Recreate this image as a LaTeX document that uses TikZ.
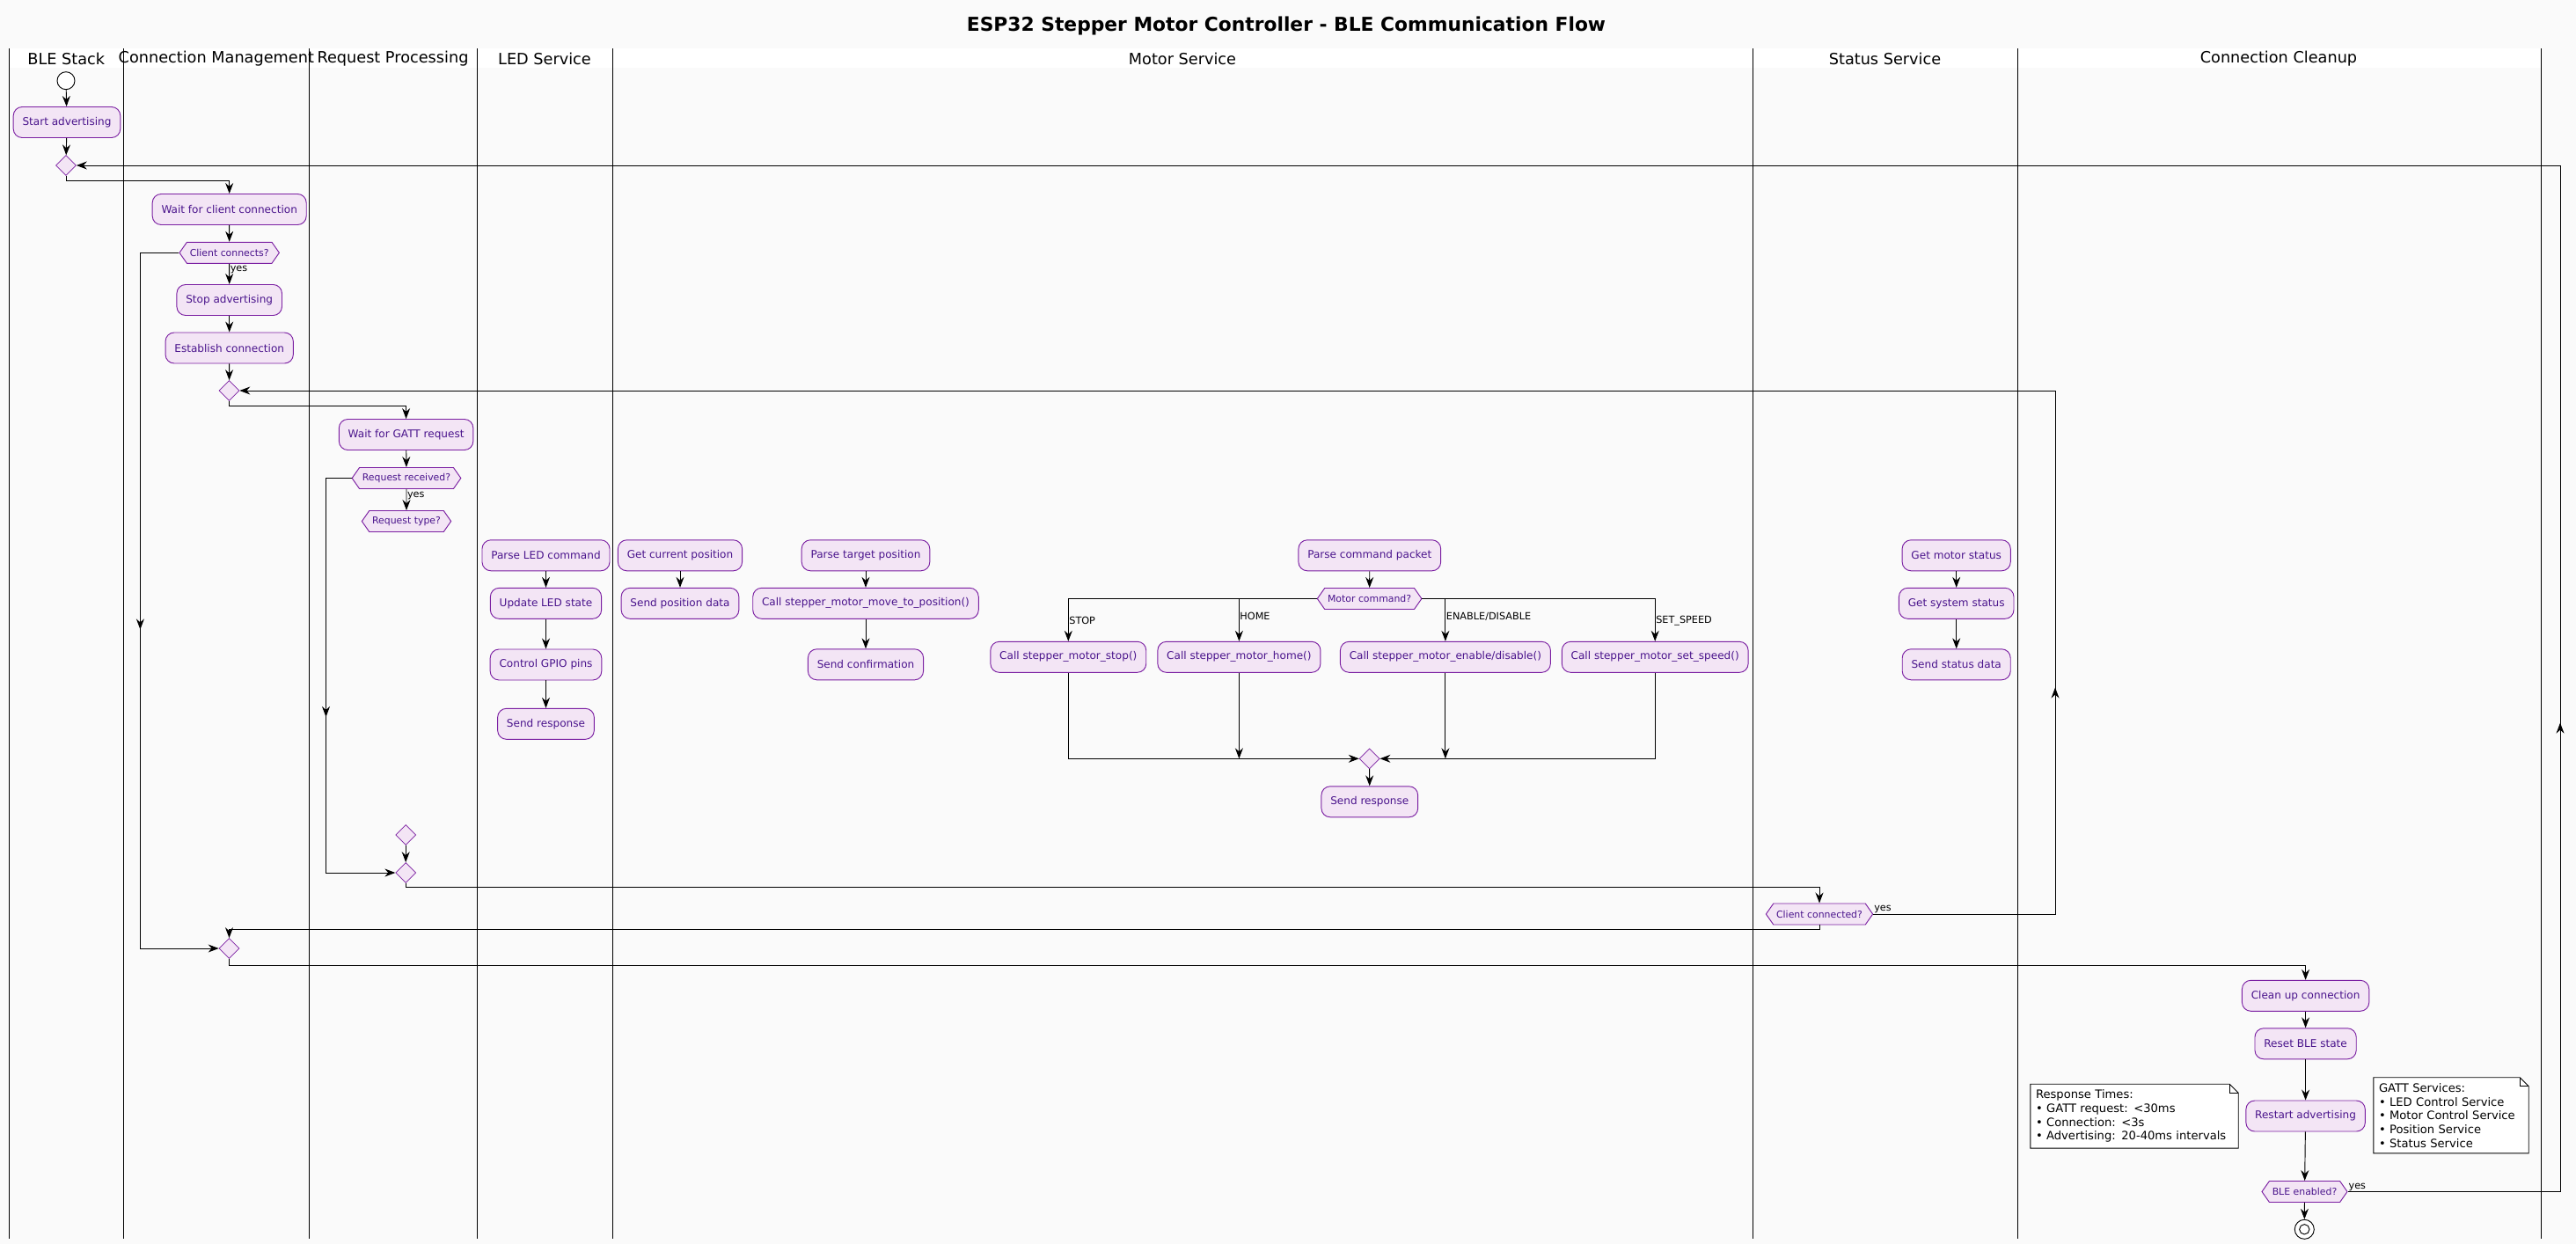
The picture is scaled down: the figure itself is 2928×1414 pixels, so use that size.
\documentclass[tikz,border=0pt]{standalone}
\usepackage{fontspec}
\setmainfont{DejaVu Sans}
\usetikzlibrary{arrows.meta,shapes.geometric,shapes.symbols,decorations.markings}

\definecolor{pagebg}{HTML}{FAFAFA}
\definecolor{actfill}{HTML}{F3E5F5}
\definecolor{actline}{HTML}{7B1FA2}
\definecolor{acttext}{HTML}{4A148C}

\newcommand{\act}[4]{%
  % #1 name, #2 x, #3 y (px, y grows downwards), #4 label
  \node[act] (#1) at (#2,#3) {#4};
}
\newcommand{\notebox}[5]{%
  % #1 name, #2 x, #3 y, #4 text width, #5 text
  \node[notetext, text width=#4] (#1) at (#2,#3) {#5};
  \fill[pagebg] (#1.north east) -- ++(-10,0) -- ++(10,10) -- cycle;
  \draw[line width=0.8pt] (#1.north west) -- ([xshift=-3mm]#1.north east)
    -- ([yshift=-3mm]#1.north east) -- (#1.south east) -- (#1.south west) -- cycle;
  \draw[line width=0.8pt] ([xshift=-3mm]#1.north east) -- ++(0,10) -- ++(10,0);
}

\begin{document}
\begin{tikzpicture}[x=0.3mm,y=-0.3mm]

% styles
\tikzset{
  act/.style={draw=actline, fill=actfill, text=acttext, rounded corners=3mm, line width=0.8pt,
    minimum height=10.5mm, inner xsep=3.1mm, inner ysep=0.5mm, font=\fontsize{10.3}{12}\selectfont},
  decide/.style={shape=signal, signal to=east and west, signal pointer angle=110, draw=actline,
    fill=actfill, text=acttext, line width=0.8pt, minimum height=7.2mm, inner xsep=1mm,
    inner ysep=0.3mm, font=\fontsize{9.3}{11}\selectfont},
  merge/.style={diamond, draw=actline, fill=actfill, line width=0.6pt,
    minimum width=6.9mm, minimum height=6.9mm, inner sep=0pt},
  startdot/.style={circle, draw, fill=white, line width=0.8pt, minimum size=6mm, inner sep=0pt},
  enddot/.style={circle, draw, fill=white, line width=0.8pt, minimum size=6.6mm, inner sep=0pt},
  flow/.style={line width=0.8pt, -{Stealth[length=3.6mm, width=2.7mm, inset=1.2mm]}},
  midarrow/.style={postaction={decorate, decoration={markings,
    mark=at position #1 with {\arrow{Stealth[length=3.6mm, width=2.7mm, inset=1.2mm]}}}}},
  lbl/.style={font=\fontsize{9.6}{11}\selectfont, inner sep=0.5pt, text=black},
  lane/.style={line width=0.8pt},
  lanehead/.style={font=\fontsize{15.1}{18}\selectfont},
  notetext/.style={fill=white, align=left, inner xsep=1.8mm, inner ysep=1.9mm,
    font=\fontsize{11.2}{13.4}\selectfont},
}

\fill[pagebg] (0,0) rectangle (2928,1414);
\useasboundingbox (0,0) rectangle (2928,1414);

\node[font=\bfseries\fontsize{18.6}{22}\selectfont] (title) at (1462,29)
  {ESP32 Stepper Motor Controller - BLE Communication Flow};

% ---------------- swimlanes ----------------
\fill[white] (10,55) rectangle (2888,76.7);
\foreach \x in {10,140.6,351,542,696,1992,2293,2888}
  \draw[lane] (\x,55) -- (\x,1408);

\node[lanehead] (hble) at (75.3,66.7) {BLE Stack};
\node[lanehead] (hconn) at (245.8,66.7) {Connection Management};
\node[lanehead] (hreq) at (446.5,66.7) {Request Processing};
\node[lanehead] (hled) at (619,66.7) {LED Service};
\node[lanehead] (hmotor) at (1344,66.7) {Motor Service};
\node[lanehead] (hstatus) at (2142.5,66.7) {Status Service};
\node[lanehead] (hclean) at (2590,66.7) {Connection Cleanup};

% ---------------- BLE Stack ----------------
\node[startdot] (start) at (75,91.7) {};
\act{startadv}{76}{139}{Start advertising}
\node[merge] (loopA) at (75,188) {};

% ---------------- Connection Management ----------------
\act{waitconn}{260.7}{238}{Wait for client connection}
\node[decide] (connq) at (260.7,287.3) {Client connects?};
\act{stopadv}{260.7}{341}{Stop advertising}
\act{establish}{260.7}{395.5}{Establish connection}
\node[merge] (loopB) at (260.5,444) {};
\node[merge] (mergeconn) at (260.5,1078) {};

% ---------------- Request Processing ----------------
\act{waitgatt}{461.6}{494}{Wait for GATT request}
\node[decide] (reqrecv) at (462,543.5) {Request received?};
\node[decide] (reqtype) at (462,592.5) {Request type?};
\node[merge] (reqpre) at (461.2,949) {};
\node[merge] (reqmerge) at (461.2,992) {};

% ---------------- LED Service ----------------
\act{parseled}{620.5}{631.3}{Parse LED command}
\act{updled}{620.5}{685.8}{Update LED state}
\act{gpio}{620.5}{755.5}{Control GPIO pins}
\act{ledresp}{620.5}{822.8}{Send response}

% ---------------- Motor Service ----------------
\act{getpos}{773}{631.3}{Get current position}
\act{sendpos}{773}{685.8}{Send position data}
\act{parsetarget}{984}{631.3}{Parse target position}
\act{callmove}{984}{685.8}{Call stepper\_motor\_move\_to\_position()}
\act{sendconf}{984}{755.3}{Send confirmation}
\act{parsecmd}{1556.8}{631.3}{Parse command packet}
\node[decide] (motorq) at (1556.6,680.5) {Motor command?};
\act{callstop}{1214.3}{746.8}{Call stepper\_motor\_stop()}
\act{callhome}{1408.4}{746.8}{Call stepper\_motor\_home()}
\act{callenable}{1642.9}{746.8}{Call stepper\_motor\_enable/disable()}
\act{callspeed}{1881.2}{746.8}{Call stepper\_motor\_set\_speed()}
\node[merge] (mergemotor) at (1556.6,862.3) {};
\act{motorresp}{1556.8}{911.3}{Send response}

% ---------------- Status Service ----------------
\act{getmotor}{2223.7}{631.3}{Get motor status}
\act{getsys}{2223.7}{685.8}{Get system status}
\act{sendstatus}{2223.7}{755.3}{Send status data}
\node[decide] (clientq) at (2068,1039) {Client connected?};

% ---------------- Connection Cleanup ----------------
\act{cleanup}{2620.6}{1131.8}{Clean up connection}
\act{resetble}{2620.6}{1186.3}{Reset BLE state}
\act{restartadv}{2620.6}{1268.5}{Restart advertising}
\node[decide] (bleq) at (2619.5,1354.5) {BLE enabled?};
\node[enddot] (finish) at (2619.3,1397.3) {};
\draw[line width=0.8pt] (finish) circle[radius=1.7mm];

\notebox{timesnote}{2426}{1268.7}{67.2mm}{Response Times:\\
  \textbullet\ GATT request: <30ms\\
  \textbullet\ Connection: <3s\\
  \textbullet\ Advertising: 20-40ms intervals}
\notebox{gattnote}{2786}{1267.8}{49.2mm}{GATT Services:\\
  \textbullet\ LED Control Service\\
  \textbullet\ Motor Control Service\\
  \textbullet\ Position Service\\
  \textbullet\ Status Service}

% loop rails
\coordinate (railble) at (2910,188);
\coordinate (railconn) at (2336,444);
\coordinate (railreq) at (370.5,992);
\coordinate (railconnq) at (159.4,1078);

% ---------------- connectors ----------------
\draw[flow] (start) -- (startadv);
\draw[flow] (startadv) -- (loopA);
\draw[flow] (loopA.south) -- ++(0,6) -| (waitconn.north);
\draw[flow] (waitconn) -- (connq);
\draw[flow] (connq) -- node[lbl, anchor=west, pos=0.3] (yesconn) {yes} (stopadv);
\draw[flow] (stopadv) -- (establish);
\draw[flow] (establish) -- (loopB);
\draw[flow, midarrow=0.511] (connq.west) -| (railconnq) -- (mergeconn.west);
\draw[flow] (loopB.south) -- ++(0,6) -| (waitgatt.north);

\draw[flow] (waitgatt) -- (reqrecv);
\draw[flow] (reqrecv) -- node[lbl, anchor=west, pos=0.3] (yesreq) {yes} (reqtype);
\draw[flow, midarrow=0.54] (reqrecv.west) -| (railreq) -- (reqmerge.west);
\draw[flow] (reqpre) -- (reqmerge);
\draw[flow] (reqmerge.south) -- ++(0,5) -| (clientq.north);

\draw[flow] (parseled) -- (updled);
\draw[flow] (updled) -- (gpio);
\draw[flow] (gpio) -- (ledresp);

\draw[flow] (getpos) -- (sendpos);
\draw[flow] (parsetarget) -- (callmove);
\draw[flow] (callmove) -- (sendconf);
\draw[flow] (parsecmd) -- (motorq);
\draw[flow] (motorq.west) -| node[lbl, anchor=west, pos=0.76] (lstop) {STOP} (callstop.north);
\draw[flow] (motorq.west) -| node[lbl, anchor=west, pos=0.71] (lhome) {HOME} (callhome.north);
\draw[flow] (motorq.east) -| node[lbl, anchor=west, pos=0.71] (lenable) {ENABLE/DISABLE} (callenable.north);
\draw[flow] (motorq.east) -| node[lbl, anchor=west, pos=0.76] (lspeed) {SET\_SPEED} (callspeed.north);
\draw[flow] (callstop.south) |- (mergemotor.west);
\draw[flow] (callhome.south) -- (callhome.south |- mergemotor);
\draw[flow] (callenable.south) -- (callenable.south |- mergemotor);
\draw[flow] (callspeed.south) |- (mergemotor.east);
\draw[flow] (mergemotor) -- (motorresp);

\draw[flow] (getmotor) -- (getsys);
\draw[flow] (getsys) -- (sendstatus);

\draw[flow, midarrow=0.162] (clientq.east) -| node[lbl, anchor=south west, pos=0] (yesclient) {yes}
  (railconn) -- (loopB.east);
\draw[flow] (clientq.south) -- ++(0,5) -| (mergeconn.north);
\draw[flow] (mergeconn.south) -- ++(0,7.5) -| (cleanup.north);

\draw[flow] (cleanup) -- (resetble);
\draw[flow] (resetble) -- (restartadv);
\draw[flow] (restartadv) -- (bleq);
\draw[flow] (bleq) -- (finish);
\draw[flow, midarrow=0.183] (bleq.east) -| node[lbl, anchor=south west, pos=0] (yesble) {yes}
  (railble) -- (loopA.east);

\end{tikzpicture}
\end{document}
